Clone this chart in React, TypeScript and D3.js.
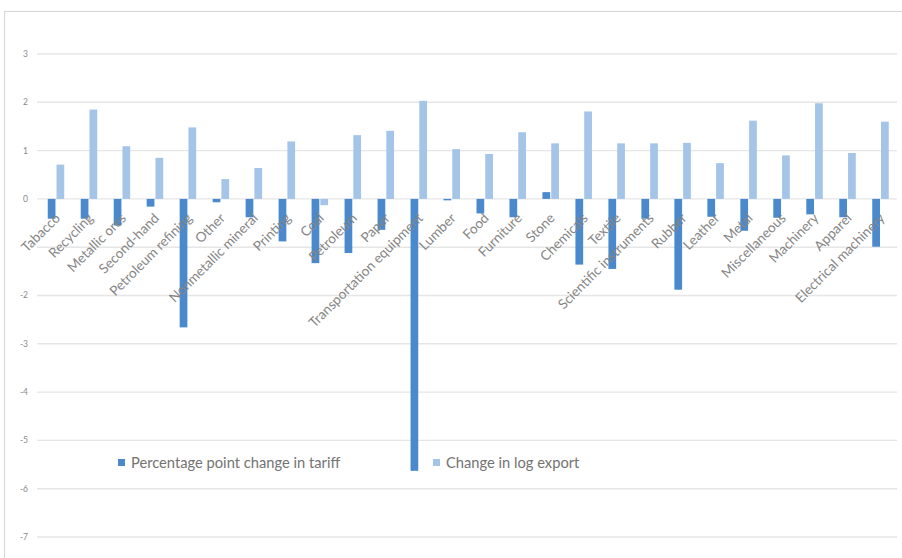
import React from "react";
import * as d3 from "d3";

const categories = [
  "Tabacco", "Recycling", "Metallic ores", "Second-hand", "Petroleum refining", "Other",
  "Nonmetallic mineral", "Printing", "Coal", "Petroleum", "Paper", "Transportation equipment",
  "Lumber", "Food", "Furniture", "Stone", "Chemicals", "Textile", "Scientific instruments",
  "Rubber", "Leather", "Metal", "Miscellaneous", "Machinery", "Apparel", "Electrical machinery",
];
const tariffChange = [
  -0.41, -0.41, -0.55, -0.16, -2.66, -0.07, -0.38, -0.88, -1.33, -1.12, -0.64, -5.63,
  -0.03, -0.3, -0.38, 0.14, -1.36, -1.45, -0.41, -1.88, -0.37, -0.66, -0.39, -0.32, -0.38, -0.99,
];
const exportChange = [
  0.71, 1.85, 1.09, 0.85, 1.48, 0.41, 0.64, 1.19, -0.13, 1.32, 1.41, 2.03,
  1.03, 0.93, 1.38, 1.15, 1.81, 1.15, 1.15, 1.16, 0.74, 1.62, 0.9, 1.98, 0.95, 1.6,
];
const seriesNames = ["Percentage point change in tariff", "Change in log export"];
const seriesColors = ["#4a89cb", "#a4c4e8"];
const yTicks = [3, 2, 1, 0, -2, -3, -4, -5, -6, -7];

export default function App() {
  const W = 902, H = 558;
  const y = d3.scaleLinear().domain([-7, 3]).range([537, 54]);
  const x0 = d3.scaleBand<string>().domain(categories).range([39.5, 897]).paddingInner(0.5).paddingOuter(0.25);
  const x1 = d3.scaleBand<string>().domain(["0", "1"]).range([0, x0.bandwidth()]).paddingInner(0.12);
  const font = "Lato, 'Liberation Sans', sans-serif";
  const series = [tariffChange, exportChange];
  return (
    <div style={{ position: "absolute", left: 0, top: 0 }}>
      <svg width={W} height={H} style={{ display: "block" }}>
        <rect x={0} y={0} width={W} height={H} fill="#fff" />
        <rect x={4.5} y={11.5} width={W + 10} height={H + 10} fill="#fff" stroke="#d9d9d9" strokeWidth={1.2} />
        {d3.range(-7, 4).map((t) => (
          <line key={t} x1={37} x2={897} y1={y(t)} y2={y(t)} stroke="#e6e6e6" strokeWidth={1.4} />
        ))}
        {yTicks.map((t) => (
          <text key={t} x={28} y={y(t)} dy="0.35em" textAnchor="end" fontSize={8.5} fill="#8a8a8a" fontFamily={font}>
            {t}
          </text>
        ))}
        {categories.map((c, i) => (
          <g key={c} transform={`translate(${x0(c)},0)`}>
            {series.map((s, j) => {
              const v = s[i];
              return (
                <rect
                  key={j}
                  x={x1(String(j))}
                  width={x1.bandwidth()}
                  y={Math.min(y(v), y(0))}
                  height={Math.abs(y(v) - y(0))}
                  fill={seriesColors[j]}
                />
              );
            })}
          </g>
        ))}
        {categories.map((c) => {
          const cx = (x0(c) as number) + x0.bandwidth() / 2;
          return (
            <text
              key={c}
              transform={`translate(${cx + 5},${219}) rotate(-45)`}
              textAnchor="end"
              fontSize={13.6}
              fill="#858585"
              fontFamily={font}
            >
              {c}
            </text>
          );
        })}
        {seriesNames.map((n, j) => {
          const lx = j === 0 ? 118 : 433;
          return (
            <g key={n}>
              <rect x={lx} y={459} width={7} height={7} fill={seriesColors[j]} />
              <text x={lx + 13} y={463} dy="0.35em" fontSize={14.7} fill="#737373" fontFamily={font}>
                {n}
              </text>
            </g>
          );
        })}
      </svg>
    </div>
  );
}
